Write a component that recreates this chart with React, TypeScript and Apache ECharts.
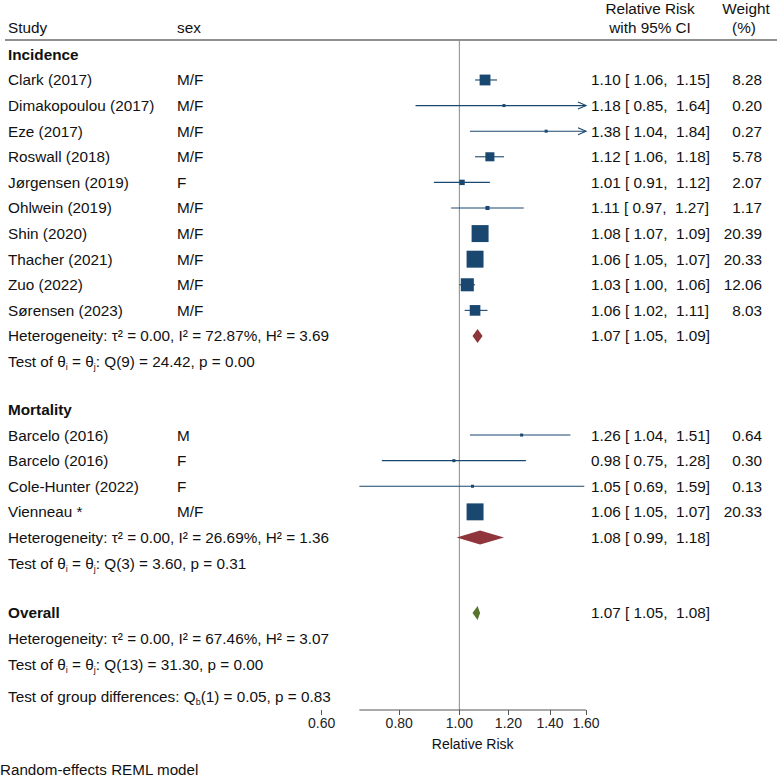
import React, { useEffect, useRef } from 'react';
import * as echarts from 'echarts';

// ---------------- data ----------------
const incidenceStudies = ['Clark (2017)', 'Dimakopoulou (2017)', 'Eze (2017)', 'Roswall (2018)', 'Jørgensen (2019)', 'Ohlwein (2019)', 'Shin (2020)', 'Thacher (2021)', 'Zuo (2022)', 'Sørensen (2023)'];
const incidenceSex = ['M/F', 'M/F', 'M/F', 'M/F', 'F', 'M/F', 'M/F', 'M/F', 'M/F', 'M/F'];
const incidenceRR = [1.10, 1.18, 1.38, 1.12, 1.01, 1.11, 1.08, 1.06, 1.03, 1.06];
const incidenceLower = [1.06, 0.85, 1.04, 1.06, 0.91, 0.97, 1.07, 1.05, 1.00, 1.02];
const incidenceUpper = [1.15, 1.64, 1.84, 1.18, 1.12, 1.27, 1.09, 1.07, 1.06, 1.11];
const incidenceWeight = [8.28, 0.20, 0.27, 5.78, 2.07, 1.17, 20.39, 20.33, 12.06, 8.03];
const incidenceSummary = [1.07, 1.05, 1.09];
const incidenceHeterogeneity = ['0.00', '72.87%', '3.69'];
const incidenceTest = ['9', '24.42', '0.00'];

const mortalityStudies = ['Barcelo (2016)', 'Barcelo (2016)', 'Cole-Hunter (2022)', 'Vienneau *'];
const mortalitySex = ['M', 'F', 'F', 'M/F'];
const mortalityRR = [1.26, 0.98, 1.05, 1.06];
const mortalityLower = [1.04, 0.75, 0.69, 1.05];
const mortalityUpper = [1.51, 1.28, 1.59, 1.07];
const mortalityWeight = [0.64, 0.30, 0.13, 20.33];
const mortalitySummary = [1.08, 0.99, 1.18];
const mortalityHeterogeneity = ['0.00', '26.69%', '1.36'];
const mortalityTest = ['3', '3.60', '0.31'];

const overallSummary = [1.07, 1.05, 1.08];
const overallHeterogeneity = ['0.00', '67.46%', '3.07'];
const overallTest = ['13', '31.30', '0.00'];
const groupDifferenceTest = ['1', '0.05', '0.83'];

const axisTickValues = [0.6, 0.8, 1.0, 1.2, 1.4, 1.6];

// ---------------- styling / layout ----------------
const FONT = '"Liberation Sans", Arial, Helvetica, sans-serif';
const FS = 15.3;
const NAVY = '#1a476f';
const MAROON = '#90353b';
const GREEN = '#55752f';
const TEXT = '#111111';
const COL_STUDY = 8;
const COL_SEX = 177;
const COL_EST = 591;
const COL_WEIGHT = 762;
const Y_MIN = -0.55;
const Y_MAX = 25.61;

type TextItem = { r: number; px?: number; xv?: number; text: string; align: 'left' | 'right' | 'center'; bold?: boolean; size?: number };

const f2 = (v: number) => v.toFixed(2);
const estText = (e: number, l: number, h: number) => `${f2(e)} [ ${f2(l)},  ${f2(h)}]`;
const hetText = (h: string[]) => `Heterogeneity: τ² = ${h[0]}, I² = ${h[1]}, H² = ${h[2]}`;
const testText = (t: string[]) => `Test of θ{sub|i} = θ{sub|j}: Q(${t[0]}) = ${t[1]}, p = ${t[2]}`;
const groupText = (g: string[]) => `Test of group differences: Q{sub|b}(${g[0]}) = ${g[1]}, p = ${g[2]}`;

export default function App() {
  const ref = useRef<HTMLDivElement>(null);

  useEffect(() => {
    document.body.style.margin = '0';
    const chart = echarts.init(ref.current!, null, { renderer: 'svg' });

    const lnMin = Math.log(axisTickValues[0]);
    const lnMax = Math.log(axisTickValues[axisTickValues.length - 1]);

    const texts: TextItem[] = [];
    const squares: number[][] = [];
    const cis: number[][] = [];
    const diamonds: number[][] = [];

    const sections = [
      { title: 'Incidence', s: incidenceStudies, sex: incidenceSex, rr: incidenceRR, lo: incidenceLower, hi: incidenceUpper, w: incidenceWeight, sum: incidenceSummary, het: incidenceHeterogeneity, test: incidenceTest },
      { title: 'Mortality', s: mortalityStudies, sex: mortalitySex, rr: mortalityRR, lo: mortalityLower, hi: mortalityUpper, w: mortalityWeight, sum: mortalitySummary, het: mortalityHeterogeneity, test: mortalityTest },
    ];
    const sectionGaps = [1.87, 1.95];

    let r = 0;
    sections.forEach((sec, si) => {
      texts.push({ r, px: COL_STUDY, text: sec.title, align: 'left', bold: true });
      sec.s.forEach((name, i) => {
        r += 1;
        texts.push({ r, px: COL_STUDY, text: name, align: 'left' });
        texts.push({ r, px: COL_SEX, text: sec.sex[i], align: 'left' });
        texts.push({ r, px: COL_EST, text: estText(sec.rr[i], sec.lo[i], sec.hi[i]), align: 'left' });
        texts.push({ r, px: COL_WEIGHT, text: f2(sec.w[i]), align: 'right' });
        squares.push([Math.log(sec.rr[i]), r, sec.w[i]]);
        const hiC = Math.min(sec.hi[i], axisTickValues[axisTickValues.length - 1]);
        cis.push([Math.log(sec.lo[i]), Math.log(hiC), r, sec.hi[i] > hiC ? 1 : 0]);
      });
      r += 1;
      texts.push({ r, px: COL_STUDY, text: hetText(sec.het), align: 'left' });
      texts.push({ r, px: COL_EST, text: estText(sec.sum[0], sec.sum[1], sec.sum[2]), align: 'left' });
      diamonds.push([Math.log(sec.sum[1]), Math.log(sec.sum[0]), Math.log(sec.sum[2]), r, si]);
      r += 1;
      texts.push({ r, px: COL_STUDY, text: testText(sec.test), align: 'left' });
      r += sectionGaps[si];
    });
    texts.push({ r, px: COL_STUDY, text: 'Overall', align: 'left', bold: true });
    texts.push({ r, px: COL_EST, text: estText(overallSummary[0], overallSummary[1], overallSummary[2]), align: 'left' });
    diamonds.push([Math.log(overallSummary[1]), Math.log(overallSummary[0]), Math.log(overallSummary[2]), r, 2]);
    r += 1;
    texts.push({ r, px: COL_STUDY, text: hetText(overallHeterogeneity), align: 'left' });
    r += 1;
    texts.push({ r, px: COL_STUDY, text: testText(overallTest), align: 'left' });
    r += 1.28;
    texts.push({ r, px: COL_STUDY, text: groupText(groupDifferenceTest), align: 'left' });

    const allLower = [...incidenceLower, ...mortalityLower];
    const lnAxisStart = Math.log(Math.min(...allLower));
    texts.push({ r: 26.93, xv: (lnAxisStart + lnMax) / 2, text: 'Relative Risk', align: 'center', size: 14 });

    const diamondColors = [MAROON, MAROON, GREEN];
    const rich = { sub: { fontSize: 9, fontFamily: FONT, fill: TEXT, color: TEXT, verticalAlign: 'bottom', lineHeight: 9 } };

    const option: any = {
      animation: false,
      backgroundColor: '#ffffff',
      grid: { left: 321.7, right: 191, top: 40.3, bottom: 66 },
      xAxis: {
        type: 'value',
        min: lnMin,
        max: lnMax,
        splitLine: { show: false },
        axisLine: { show: false, onZero: false },
        axisTick: { show: true, customValues: axisTickValues.map((v) => Math.log(v)), length: 5, lineStyle: { color: '#555', width: 1 } },
        axisLabel: {
          customValues: axisTickValues.map((v) => Math.log(v)),
          formatter: (v: number) => Math.exp(v).toFixed(2),
          fontFamily: FONT, fontSize: 14, color: '#222', margin: 6,
          showMinLabel: true, showMaxLabel: true,
        },
      },
      yAxis: { type: 'value', min: Y_MIN, max: Y_MAX, inverse: true, show: false },
      graphic: [
        { type: 'line', shape: { x1: 5, y1: 40, x2: 777, y2: 40 }, style: { stroke: '#222', lineWidth: 1.2 } },
        { type: 'text', x: 8, y: 27, style: { text: 'Study', font: `${FS}px ${FONT}`, fill: TEXT, textAlign: 'left', textVerticalAlign: 'middle' } },
        { type: 'text', x: 177, y: 27, style: { text: 'sex', font: `${FS}px ${FONT}`, fill: TEXT, textAlign: 'left', textVerticalAlign: 'middle' } },
        { type: 'text', x: 650, y: 8, style: { text: 'Relative Risk', font: `${FS}px ${FONT}`, fill: TEXT, textAlign: 'center', textVerticalAlign: 'middle' } },
        { type: 'text', x: 650, y: 27, style: { text: 'with 95% CI', font: `${FS}px ${FONT}`, fill: TEXT, textAlign: 'center', textVerticalAlign: 'middle' } },
        { type: 'text', x: 746, y: 8, style: { text: 'Weight', font: `${FS}px ${FONT}`, fill: TEXT, textAlign: 'center', textVerticalAlign: 'middle' } },
        { type: 'text', x: 744, y: 27, style: { text: '(%)', font: `${FS}px ${FONT}`, fill: TEXT, textAlign: 'center', textVerticalAlign: 'middle' } },
        { type: 'text', x: 0, y: 769, style: { text: 'Random-effects REML model', font: `15.2px ${FONT}`, fill: TEXT, textAlign: 'left', textVerticalAlign: 'middle' } },
      ],
      series: [
        {
          // reference line at RR = 1 and the drawn axis line
          type: 'custom',
          data: [[0, 0]],
          z: 1,
          renderItem: (_p: any, api: any) => {
            const top = api.coord([0, Y_MIN]);
            const bot = api.coord([0, Y_MAX]);
            const a1 = api.coord([lnAxisStart, Y_MAX]);
            const a2 = api.coord([lnMax, Y_MAX]);
            return {
              type: 'group',
              children: [
                { type: 'line', shape: { x1: top[0], y1: top[1], x2: bot[0], y2: bot[1] }, style: { stroke: '#8a8a8a', lineWidth: 1 } },
                { type: 'line', shape: { x1: a1[0], y1: a1[1], x2: a2[0], y2: a2[1] }, style: { stroke: '#555', lineWidth: 1 } },
              ],
            };
          },
        },
        {
          type: 'custom',
          data: cis,
          encode: { x: [0, 1], y: 2 },
          z: 2,
          renderItem: (_p: any, api: any) => {
            const p1 = api.coord([api.value(0), api.value(2)]);
            const p2 = api.coord([api.value(1), api.value(2)]);
            const children: any[] = [
              { type: 'line', shape: { x1: p1[0], y1: p1[1], x2: p2[0], y2: p2[1] }, style: { stroke: NAVY, lineWidth: 1.1 } },
            ];
            if (api.value(3)) {
              children.push({
                type: 'polyline',
                shape: { points: [[p2[0] - 8, p2[1] - 3.5], [p2[0], p2[1]], [p2[0] - 8, p2[1] + 3.5]] },
                style: { stroke: NAVY, fill: 'none', lineWidth: 1.1 },
              });
            }
            return { type: 'group', children };
          },
        },
        {
          type: 'scatter',
          data: squares,
          z: 3,
          symbol: 'rect',
          symbolSize: (v: number[]) => Math.max(3, 3.76 * Math.sqrt(v[2])),
          itemStyle: { color: NAVY, opacity: 1 },
          silent: true,
        },
        {
          type: 'custom',
          data: diamonds,
          encode: { x: [0, 1, 2], y: 3 },
          z: 3,
          renderItem: (_p: any, api: any) => {
            const yv = api.value(3);
            const l = api.coord([api.value(0), yv]);
            const m = api.coord([api.value(1), yv]);
            const h = api.coord([api.value(2), yv]);
            return {
              type: 'polygon',
              shape: { points: [[l[0], l[1]], [m[0], m[1] - 7], [h[0], h[1]], [m[0], m[1] + 7]] },
              style: { fill: diamondColors[api.value(4)] },
            };
          },
        },
        {
          type: 'custom',
          data: texts.map((t) => [t.xv ?? 0, t.r]),
          z: 5,
          renderItem: (p: any, api: any) => {
            const t = texts[p.dataIndex];
            const pt = api.coord([t.xv ?? 0, t.r]);
            return {
              type: 'text',
              x: t.px ?? pt[0],
              y: pt[1],
              style: {
                text: t.text,
                fontFamily: FONT,
                fontSize: t.size ?? FS,
                fontWeight: t.bold ? 'bold' : 'normal',
                fill: TEXT,
                align: t.align,
                verticalAlign: 'middle',
                lineHeight: 20,
                rich,
              },
            };
          },
        },
      ],
    };

    chart.setOption(option);
    return () => chart.dispose();
  }, []);

  return <div ref={ref} style={{ position: 'absolute', left: 0, top: 0, width: 777, height: 776 }} />;
}
